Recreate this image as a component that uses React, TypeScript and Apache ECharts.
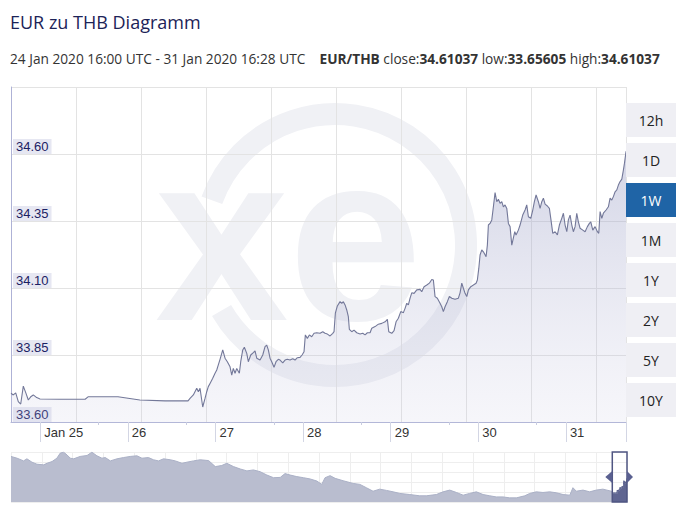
import React, { useEffect, useRef } from "react";
import * as echarts from "echarts";

// ---------- texts ----------
const titleText = "EUR zu THB Diagramm";
const rangeText = "24 Jan 2020 16:00 UTC - 31 Jan 2020 16:28 UTC";
const pairText = "EUR/THB";
const closeValue = "34.61037";
const lowValue = "33.65605";
const highValue = "34.61037";
const rangeButtons = ["12h", "1D", "1W", "1M", "1Y", "2Y", "5Y", "10Y"];
const activeButton = "1W";

// ---------- axes ----------
const START = Date.UTC(2020, 0, 24, 16, 0);
const END = Date.UTC(2020, 0, 31, 16, 28);
const HOUR = 3600000;
const DAY = 86400000;
const labelDays = [25, 26, 27, 28, 29, 30, 31]; // January 2020, midnight UTC
const yTickLabels = [33.6, 33.85, 34.1, 34.35, 34.6];
const yMin = 33.6;
const yMax = 34.85;
const yStep = 0.25;
const navSpanDays = 294;
const navMin = 33.12;
const navMax = 36.27;

// ---------- data: [hours since 24 Jan 16:00 UTC, EUR/THB] ----------
const eurThbWeek: [number, number][] = [
  [0, 33.707], [0.63, 33.701], [1.29, 33.709], [2.0, 33.676], [2.66, 33.667], [3.37, 33.734], [4.11, 33.707], [4.74, 33.682], [5.4, 33.694], [6.11, 33.701], [7.04, 33.691], [7.95, 33.686],
  [13.4, 33.685], [20.3, 33.685], [21.1, 33.694], [29.3, 33.694], [35.3, 33.682], [42.2, 33.679], [48.5, 33.679],
  [49.04, 33.688], [49.95, 33.701], [50.88, 33.726], [51.32, 33.713], [51.78, 33.726], [52.52, 33.656], [53.15, 33.688], [53.62, 33.713], [54.05, 33.732], [54.52, 33.744], [55.26, 33.763], [55.89, 33.782], [56.36, 33.794], [56.79, 33.813], [57.26, 33.834], [58.0, 33.869], [58.63, 33.838], [59.26, 33.825], [60.0, 33.806], [60.47, 33.775], [60.9, 33.8], [61.37, 33.782], [61.84, 33.8], [62.55, 33.782], [62.93, 33.825], [63.48, 33.869], [63.92, 33.879], [64.58, 33.856], [65.01, 33.825], [65.67, 33.85], [66.38, 33.859], [66.85, 33.865], [67.32, 33.838], [68.22, 33.831], [68.96, 33.85], [69.59, 33.881], [70.05, 33.887], [70.49, 33.869], [70.96, 33.838], [71.42, 33.825], [72.05, 33.804], [72.6, 33.825], [73.23, 33.834], [73.7, 33.831], [74.44, 33.821], [75.07, 33.831], [75.7, 33.834], [76.44, 33.831], [77.18, 33.836], [77.81, 33.831], [78.44, 33.84], [79.18, 33.841], [79.73, 33.85], [80.27, 33.862], [80.63, 33.925], [81.18, 33.912], [81.73, 33.925], [82.38, 33.918], [83.01, 33.931], [83.75, 33.933], [84.66, 33.931], [85.4, 33.937], [86.03, 33.931], [86.66, 33.928], [87.4, 33.921], [88.14, 33.931], [88.49, 33.937], [88.85, 34.006], [89.4, 34.033], [90.14, 34.049], [90.6, 34.043], [91.04, 34.049], [91.51, 34.037], [91.97, 34.018], [92.41, 33.993], [92.68, 33.946], [93.34, 33.937], [93.97, 33.943], [94.71, 33.933], [95.62, 33.928], [96.36, 33.931], [96.99, 33.925], [97.62, 33.933], [98.36, 33.933], [98.82, 33.95], [99.73, 33.956], [100.63, 33.965], [101.56, 33.968], [102.47, 33.974], [103.1, 33.983], [103.48, 33.937], [104.3, 33.931], [104.93, 33.941], [105.48, 33.974], [106.11, 33.987], [106.77, 34.012], [107.48, 34.008], [107.95, 34.024], [108.41, 34.043], [108.85, 34.037], [109.32, 34.062], [109.78, 34.082], [110.41, 34.08], [111.15, 34.093], [112.05, 34.095], [112.51, 34.086], [113.15, 34.105], [113.89, 34.111], [114.6, 34.118], [115.26, 34.132], [115.7, 34.13], [116.16, 34.068], [116.79, 34.062], [117.53, 34.043], [118.0, 34.03], [118.44, 34.012], [118.9, 34.03], [119.53, 34.049], [120.08, 34.068], [120.74, 34.062], [121.64, 34.058], [122.55, 34.062], [123.01, 34.082], [123.48, 34.118], [123.92, 34.099], [124.38, 34.08], [124.85, 34.068], [125.29, 34.093], [125.95, 34.105], [126.66, 34.111], [127.4, 34.118], [127.75, 34.13], [128.14, 34.173], [128.49, 34.223], [128.96, 34.242], [129.4, 34.235], [130.14, 34.217], [130.49, 34.26], [130.77, 34.335], [131.23, 34.341], [131.7, 34.354], [132.14, 34.403], [132.6, 34.456], [133.07, 34.422], [133.51, 34.431], [133.97, 34.416], [134.44, 34.422], [134.88, 34.403], [135.34, 34.41], [135.81, 34.397], [136.25, 34.341], [136.71, 34.329], [137.18, 34.26], [138.0, 34.31], [138.35, 34.298], [138.98, 34.316], [139.45, 34.335], [140.18, 34.372], [140.82, 34.391], [141.28, 34.41], [141.73, 34.366], [142.38, 34.36], [142.93, 34.391], [143.37, 34.422], [143.84, 34.447], [144.47, 34.422], [144.93, 34.397], [145.4, 34.422], [145.84, 34.435], [146.3, 34.413], [146.93, 34.406], [147.48, 34.397], [147.86, 34.36], [148.41, 34.304], [149.04, 34.31], [149.67, 34.298], [150.22, 34.335], [150.87, 34.36], [151.32, 34.379], [151.78, 34.335], [152.25, 34.31], [152.68, 34.354], [153.15, 34.372], [153.62, 34.335], [154.05, 34.31], [154.52, 34.329], [154.98, 34.379], [155.42, 34.347], [155.89, 34.323], [156.63, 34.316], [157.26, 34.31], [157.89, 34.329], [158.44, 34.341], [158.82, 34.347], [159.37, 34.316], [160.0, 34.329], [160.63, 34.31], [161.01, 34.304], [161.37, 34.385], [161.84, 34.36], [162.27, 34.379], [163.01, 34.391], [163.64, 34.403], [164.11, 34.435], [164.58, 34.428], [165.01, 34.441], [165.48, 34.459], [165.95, 34.466], [166.38, 34.484], [166.85, 34.497], [167.32, 34.506], [167.75, 34.54], [168.04, 34.565], [168.42, 34.603], [168.47, 34.61],
];

// ---------- navigator history: [days before 31 Jan 16:28 UTC, EUR/THB] ----------
const historyPoints: [number, number][] = [
  [-294, 35.99], [-291.1, 35.88], [-288.0, 35.71], [-286.4, 35.84], [-284.0, 35.63], [-281.6, 35.5], [-278.4, 35.46], [-276.8, 35.56], [-274.4, 35.67], [-272.1, 35.88], [-270.5, 36.2], [-268.9, 36.26], [-267.3, 36.09], [-265.7, 35.88], [-264.1, 35.84], [-261.0, 35.99], [-257.7, 36.05], [-255.4, 36.26], [-253.0, 36.03], [-250.6, 35.88], [-249.0, 35.92], [-246.6, 35.71], [-243.4, 35.84], [-240.3, 35.92], [-237.1, 35.99], [-233.9, 36.03], [-231.5, 35.88], [-228.4, 35.92], [-226.0, 35.78], [-223.6, 35.71], [-221.2, 35.84], [-218.0, 35.78], [-215.6, 35.71], [-212.4, 35.56], [-210.0, 35.63], [-206.9, 35.71], [-203.7, 35.78], [-199.7, 35.73], [-196.5, 35.35], [-193.4, 35.42], [-191.0, 35.56], [-187.8, 35.35], [-184.6, 35.2], [-181.4, 35.08], [-178.3, 35.14], [-175.1, 35.03], [-171.9, 34.82], [-168.7, 34.65], [-165.5, 34.67], [-163.2, 34.91], [-160.8, 34.82], [-157.6, 34.72], [-154.4, 34.65], [-151.2, 34.57], [-148.0, 34.44], [-145.7, 34.23], [-144.1, 34.65], [-141.7, 34.78], [-139.3, 34.61], [-135.5, 34.46], [-130.7, 34.29], [-127.5, 34.23], [-124.4, 34.02], [-121.2, 33.8], [-118.0, 33.93], [-114.8, 33.85], [-111.6, 33.76], [-108.4, 33.66], [-103.7, 33.59], [-98.9, 33.51], [-95.8, 33.51], [-91.0, 33.59], [-87.8, 33.76], [-84.6, 33.87], [-81.4, 33.72], [-78.2, 33.55], [-75.1, 33.66], [-71.9, 33.76], [-68.7, 33.59], [-65.5, 33.51], [-62.4, 33.44], [-59.2, 33.44], [-56.0, 33.38], [-52.8, 33.38], [-48.8, 33.51], [-46.4, 33.66], [-43.3, 33.76], [-40.1, 33.72], [-36.9, 33.76], [-33.7, 33.7], [-30.5, 33.59], [-27.3, 33.55], [-25.8, 34.02], [-24.2, 33.8], [-21.0, 33.87], [-17.8, 33.76], [-14.7, 33.87], [-11.5, 33.93], [-7.5, 33.8],
];

const FONT_AXIS = "Liberation Sans";
const FONT_UI = "Open Sans";

export default function App() {
  const ref = useRef<HTMLDivElement>(null);

  useEffect(() => {
    document.body.style.margin = "0";
    const chart = echarts.init(ref.current!, null, { renderer: "svg" });

    const weekData = eurThbWeek.map(([h, v]) => [START + h * HOUR, v]);
    const totalDays = (END - START) / DAY;
    const navWeek = eurThbWeek.map(([h, v]) => [h / 24 - totalDays, v]);
    const navData = [...historyPoints, ...navWeek];
    const midnights = labelDays.map((d) => Date.UTC(2020, 0, d));
    const sixteens = labelDays.slice(0, 6).map((_, i) => START + (i + 1) * DAY);

    const option: any = {
      animation: false,
      backgroundColor: "#ffffff",
      grid: [
        { left: 11, right: 60, top: 87, bottom: 99, containLabel: false },
        { left: 11, right: 59, top: 452, height: 50, containLabel: false },
      ],
      xAxis: [
        {
          type: "value",
          gridIndex: 0,
          min: START,
          max: END,
          position: "bottom",
          axisLine: { show: true, lineStyle: { color: "#b3b7d8", width: 1 } },
          axisTick: { show: true, length: 20, customValues: [...midnights, END], lineStyle: { color: "#d3d6e4" } },
          axisLabel: {
            customValues: midnights,
            formatter: (v: number) => {
              const d = new Date(v).getUTCDate();
              return d === labelDays[0] ? "Jan " + d : String(d);
            },
            align: "left",
            padding: [0, 0, 0, 4],
            margin: 4,
            color: "#333333",
            fontSize: 13,
            fontFamily: FONT_AXIS,
          },
          splitLine: { show: false },
        },
        {
          type: "value",
          gridIndex: 0,
          min: START,
          max: END,
          position: "bottom",
          axisLine: { show: false },
          axisTick: { show: true, length: 3, customValues: sixteens, lineStyle: { color: "#c8cce0" } },
          axisLabel: { show: false },
          splitLine: { show: false },
        },
        {
          type: "value",
          gridIndex: 0,
          min: START,
          max: END,
          interval: ((END - START) * 65) / 615,
          position: "bottom",
          axisLine: { show: false },
          axisTick: { show: false },
          axisLabel: { show: false },
          splitLine: { show: true, lineStyle: { color: "#e3e3e3", width: 1 } },
        },
        {
          type: "value",
          gridIndex: 1,
          min: -navSpanDays,
          max: 0,
          interval: navSpanDays / 20,
          axisLine: { show: false },
          axisTick: { show: false },
          axisLabel: { show: false },
          splitLine: { show: true, lineStyle: { color: "#eeeeee" } },
        },
      ],
      yAxis: [
        {
          type: "value",
          gridIndex: 0,
          min: yMin,
          max: yMax,
          interval: yStep,
          position: "left",
          axisLine: { show: true, lineStyle: { color: "#aeb2d6", width: 1 } },
          axisTick: { show: false },
          splitLine: { show: true, lineStyle: { color: "#e3e3e3" } },
          axisLabel: {
            customValues: yTickLabels,
            inside: true,
            formatter: (v: number) => v.toFixed(2),
            align: "left",
            verticalAlign: "bottom",
            margin: 2,
            padding: [1, 3, 1, 3],
            lineHeight: 13,
            backgroundColor: "#e6e7f2",
            color: "#1b2163",
            fontSize: 13,
            fontFamily: FONT_AXIS,
          },
        },
        {
          type: "value",
          gridIndex: 1,
          min: navMin,
          max: navMax,
          interval: (navMax - navMin) / 5,
          axisLine: { show: false },
          axisTick: { show: false },
          axisLabel: { show: false },
          splitLine: { show: true, lineStyle: { color: "#eeeeee" } },
        },
      ],
      series: [
        {
          type: "line",
          name: "EUR/THB",
          xAxisIndex: 0,
          yAxisIndex: 0,
          data: weekData,
          showSymbol: false,
          symbol: "none",
          z: 3,
          lineStyle: { color: "#737899", width: 1.1 },
          areaStyle: {
            color: new echarts.graphic.LinearGradient(0, 0, 0, 1, [
              { offset: 0, color: "rgba(150,155,195,0.6)" },
              { offset: 1, color: "rgba(205,205,228,0.25)" },
            ]),
          },
        },
        {
          type: "line",
          xAxisIndex: 3,
          yAxisIndex: 1,
          data: navData,
          showSymbol: false,
          symbol: "none",
          lineStyle: { color: "#aab0c6", width: 1 },
          areaStyle: { color: "#b9bdcf", opacity: 1 },
        },
        {
          type: "line",
          xAxisIndex: 3,
          yAxisIndex: 1,
          data: navWeek,
          showSymbol: false,
          symbol: "none",
          lineStyle: { color: "#5c628f", width: 1 },
          areaStyle: { color: "#5f6591", opacity: 1 },
        },
      ],
    };

    chart.setOption(option);

    const x0 = chart.convertToPixel({ xAxisIndex: 3 }, navWeek[0][0]) as number;
    const x1 = chart.convertToPixel({ xAxisIndex: 3 }, 0) as number;
    const yTop = chart.convertToPixel({ yAxisIndex: 1 }, navMax) as number;
    const yBot = chart.convertToPixel({ yAxisIndex: 1 }, navMin) as number;
    const yc = (yTop + yBot) / 2;

    const buttons: any[] = [];
    rangeButtons.forEach((label, i) => {
      const active = label === activeButton;
      buttons.push({
        type: "rect",
        z: 10,
        shape: { x: 626, y: 103 + 40 * i, width: 50, height: 34 },
        style: { fill: active ? "#1f64a6" : "#efeff4" },
      });
      buttons.push({
        type: "text",
        z: 11,
        style: {
          text: label,
          x: 651,
          y: 120 + 40 * i,
          align: "center",
          verticalAlign: "middle",
          fontSize: 14,
          fontFamily: FONT_UI,
          fill: active ? "#ffffff" : "#222222",
        },
      });
    });

    chart.setOption({
      graphic: [
        // watermark
        {
          type: "arc",
          z: -1,
          silent: true,
          shape: { cx: 335, cy: 245, r: 131, startAngle: (-160 * Math.PI) / 180, endAngle: (150 * Math.PI) / 180, clockwise: true },
          style: { stroke: "#f0f1f5", lineWidth: 22, fill: "none" },
        },
        {
          type: "text",
          z: -1,
          silent: true,
          style: {
            text: "xe",
            x: 155,
            y: 237,
            verticalAlign: "middle",
            fontSize: 240,
            fontWeight: "bold",
            fontFamily: FONT_AXIS,
            fill: "#f0f1f5",
          },
        },
        // header
        {
          type: "text",
          style: {
            text: titleText,
            x: 10,
            y: 22,
            verticalAlign: "middle",
            fontSize: 18,
            fontFamily: FONT_UI,
            fill: "#1c2357",
          },
        },
        {
          type: "text",
          style: {
            text: `${rangeText}    {b|${pairText}} close:{b|${closeValue}} low:{b|${lowValue}} high:{b|${highValue}}`,
            x: 10,
            y: 58,
            verticalAlign: "middle",
            fontSize: 13.7,
            fontFamily: FONT_UI,
            fill: "#333333",
            rich: {
              b: { fontSize: 13.7, fontFamily: FONT_UI, fontWeight: "bold", fill: "#333333" },
            },
          },
        },
        ...buttons,
        // navigator selection
        {
          type: "rect",
          z: 20,
          shape: { x: x0, y: yTop, width: x1 - x0, height: yBot - yTop },
          style: { fill: "rgba(0,0,0,0)", stroke: "#4f5582", lineWidth: 1.5 },
        },
        {
          type: "polygon",
          z: 21,
          shape: { points: [[x0, yc - 6], [x0 - 7, yc], [x0, yc + 6]] },
          style: { fill: "#5a6090" },
        },
        {
          type: "polygon",
          z: 21,
          shape: { points: [[x1, yc - 6], [x1 + 6, yc], [x1, yc + 6]] },
          style: { fill: "#5a6090" },
        },
      ],
    });

    return () => chart.dispose();
  }, []);

  return <div ref={ref} style={{ width: 686, height: 521 }} />;
}
